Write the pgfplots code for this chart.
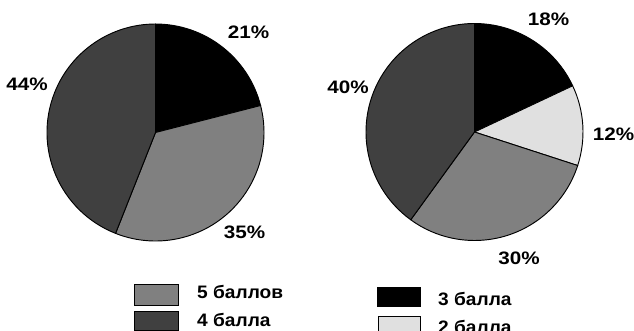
\documentclass[border=0pt]{standalone}
\usepackage{fontspec}
\setmainfont{Liberation Sans}[FakeStretch=1.06]
\usepackage{pgfplots}
\pgfplotsset{compat=1.18}

\definecolor{piegrey}{RGB}{128,128,128}
\definecolor{piedark}{RGB}{64,64,64}
\definecolor{pielight}{RGB}{224,224,224}

\tikzset{lab/.style={font=\fontsize{15.4}{17}\selectfont\bfseries, inner sep=0pt}}
% share labels are set a little wider
\newcommand{\share}[1]{\scalebox{1.08}[1]{#1\%}}

% one sector: centre x, centre y, cumulative share at start and end (percent), fill
% shares run clockwise from twelve o'clock; radius 108.5 units = 3.255cm
\newcommand{\sector}[5]{%
  \filldraw[fill=#5, draw=black, line width=0.8pt, line join=round]
    (axis cs:#1,#2) -- (axis cs:{#1+108.5*cos(90-3.6*#3)},{#2-108.5*sin(90-3.6*#3)})
    arc[start angle={90-3.6*#3}, end angle={90-3.6*#4}, radius=3.255cm] -- cycle;}

\begin{document}
\begin{tikzpicture}
\begin{axis}[
  at={(0,0)}, anchor=south west,
  x=0.03cm, y=0.03cm,
  xmin=0, xmax=634, ymin=0, ymax=331,
  y dir=reverse,
  hide axis,
  clip=true,
]
  % full drawing area
  \path (axis cs:0,0) rectangle (axis cs:634,331);

  % left pie: 21 / 35 / 44
  \sector{155.5}{132.5}{0}{21}{black}
  \sector{155.5}{132.5}{21}{56}{piegrey}
  \sector{155.5}{132.5}{56}{100}{piedark}
  % right pie: 18 / 12 / 30 / 40
  \sector{474.5}{132}{0}{18}{black}
  \sector{474.5}{132}{18}{30}{pielight}
  \sector{474.5}{132}{30}{60}{piegrey}
  \sector{474.5}{132}{60}{100}{piedark}

  % share labels
  \node[lab, anchor=base] at (axis cs:248.5,38.5) {\share{21}};
  \node[lab, anchor=base] at (axis cs:244.5,238) {\share{35}};
  \node[lab, anchor=base] at (axis cs:27,90.5) {\share{44}};
  \node[lab, anchor=base] at (axis cs:548.5,25) {\share{18}};
  \node[lab, anchor=base] at (axis cs:613.5,140) {\share{12}};
  \node[lab, anchor=base] at (axis cs:519,264.5) {\share{30}};
  \node[lab, anchor=base] at (axis cs:348,93.5) {\share{40}};

  % legend
  \filldraw[fill=piegrey, draw=black, line width=0.8pt] (axis cs:134.5,284.5) rectangle (axis cs:178,305.5);
  \filldraw[fill=piedark, draw=black, line width=0.8pt] (axis cs:134.5,311) rectangle (axis cs:178,330.5);
  \filldraw[fill=black, draw=black, line width=0.8pt] (axis cs:377,287) rectangle (axis cs:420,306.5);
  \filldraw[fill=pielight, draw=black, line width=0.6pt] (axis cs:378,316) rectangle (axis cs:420,336);
  \node[lab, anchor=base west] at (axis cs:197,298.5) {5 баллов};
  \node[lab, anchor=base west] at (axis cs:197,326.5) {4 балла};
  \node[lab, anchor=base west] at (axis cs:438,305.5) {3 балла};
  \node[lab, anchor=base west] at (axis cs:438,333) {2 балла};
\end{axis}
\end{tikzpicture}
\end{document}
